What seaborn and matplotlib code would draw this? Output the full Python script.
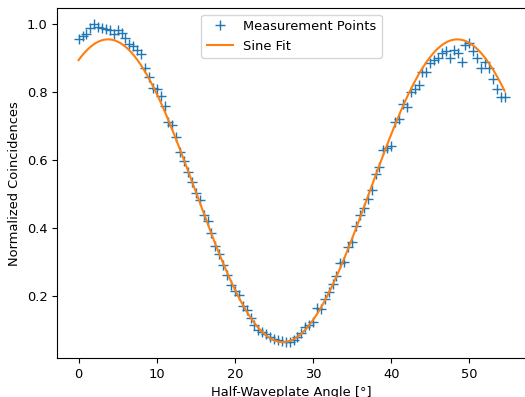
import numpy as np
import matplotlib
matplotlib.use("Agg")
import matplotlib.pyplot as plt
import seaborn as sns

angles = np.arange(0, 55, 0.5)
coincidences = [
    0.955, 0.966, 0.972, 0.990, 1.000, 0.993, 0.988, 0.985, 0.983, 0.972,
    0.983, 0.975, 0.960, 0.943, 0.935, 0.925, 0.913, 0.870, 0.845, 0.812,
    0.810, 0.790, 0.760, 0.712, 0.703, 0.668, 0.625, 0.597, 0.565, 0.535,
    0.502, 0.482, 0.440, 0.420, 0.387, 0.347, 0.325, 0.292, 0.262, 0.232,
    0.215, 0.202, 0.170, 0.160, 0.135, 0.115, 0.100, 0.095, 0.087, 0.080,
    0.075, 0.070, 0.068, 0.066, 0.066, 0.072, 0.080, 0.090, 0.110, 0.115,
    0.125, 0.165, 0.163, 0.190, 0.213, 0.235, 0.260, 0.298, 0.300, 0.345,
    0.360, 0.405, 0.440, 0.460, 0.485, 0.512, 0.560, 0.580, 0.630, 0.635,
    0.642, 0.712, 0.720, 0.765, 0.755, 0.800, 0.810, 0.820, 0.858, 0.860,
    0.885, 0.895, 0.900, 0.915, 0.920, 0.900, 0.925, 0.915, 0.890, 0.940,
    0.945, 0.920, 0.900, 0.870, 0.890, 0.870, 0.838, 0.810, 0.787, 0.787,
]
x_label = "Half-Waveplate Angle [°]"
y_label = "Normalized Coincidences"
legend_labels = ["Measurement Points", "Sine Fit"]

plt.rcParams["font.size"] = 9.4

x = np.asarray(angles)
y = np.asarray(coincidences)

# least-squares sine fit: y = c + a*sin(2*pi*x/P) + b*cos(2*pi*x/P)
best = None
for P in np.linspace(38, 52, 1401):
    w = 2 * np.pi / P
    M = np.column_stack([np.sin(w * x), np.cos(w * x), np.ones_like(x)])
    coef, res, *_ = np.linalg.lstsq(M, y, rcond=None)
    r = np.sum((M @ coef - y) ** 2)
    if best is None or r < best[0]:
        best = (r, P, coef)
_, P, coef = best
xf = np.linspace(x.min(), x.max(), 500)
w = 2 * np.pi / P
yf = coef[0] * np.sin(w * xf) + coef[1] * np.cos(w * xf) + coef[2]

fig = plt.figure(figsize=(5.25, 3.97), dpi=100)
W, H = 525, 397
ax = fig.add_axes([57.3 / W, 39 / H, (525.8 - 57.3) / W, (388.7 - 39) / H])

sns.lineplot(x=x, y=y, marker="+", linestyle="", markersize=7,
             markeredgewidth=1.0, markeredgecolor="C0", color="C0",
             label=legend_labels[0], ax=ax)
sns.lineplot(x=xf, y=yf, color="C1", linewidth=1.5, label=legend_labels[1], ax=ax)

ax.set_xlabel(x_label)
ax.set_ylabel(y_label)
ax.set_xticks([0, 10, 20, 30, 40, 50])
ax.set_yticks([0.2, 0.4, 0.6, 0.8, 1.0])
ax.legend(loc="upper center")

fig.savefig("out.png", dpi=100)
